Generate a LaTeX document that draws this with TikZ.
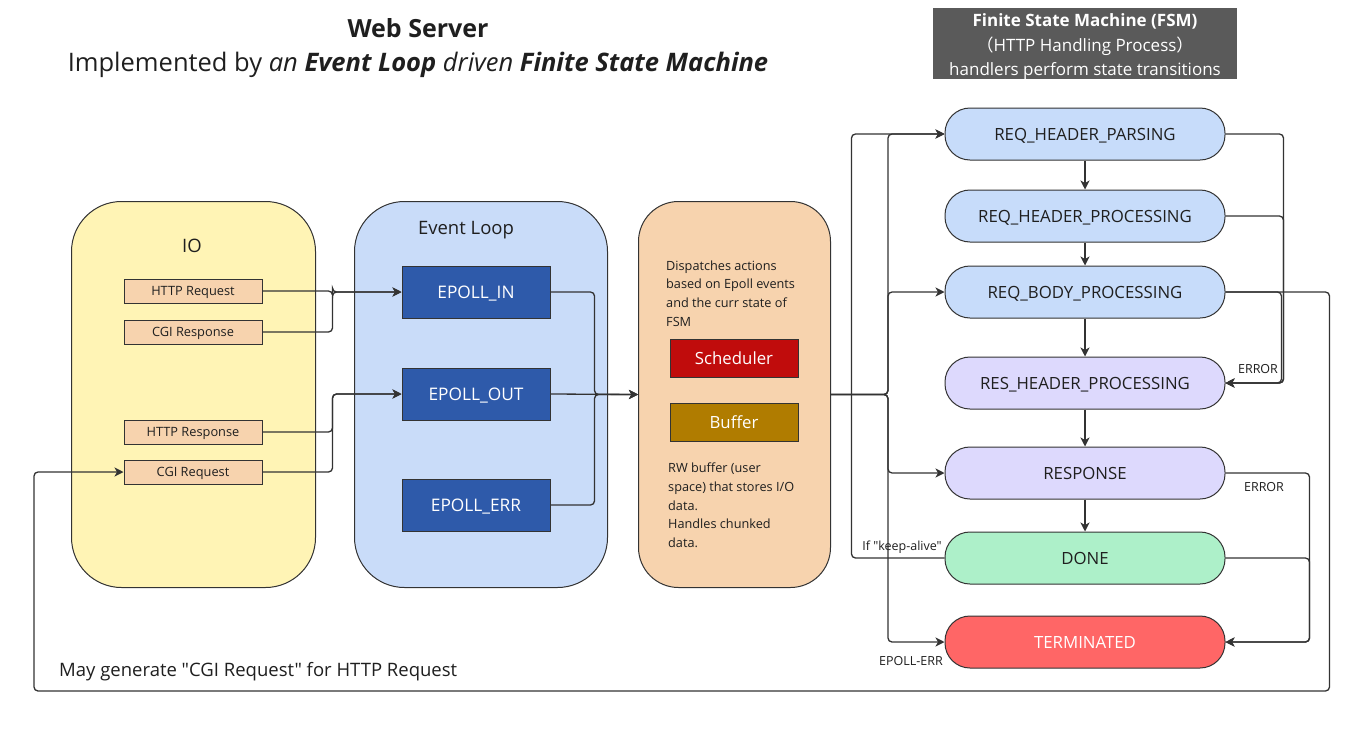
\documentclass[tikz,border=0pt]{standalone}
\usepackage{fontspec}
\setmainfont{Open Sans}[Ligatures=TeXOff]
\newfontfamily\cjk{Noto Sans CJK SC}
\usetikzlibrary{arrows.meta,positioning,calc}
\definecolor{Ink}{HTML}{333333}
\definecolor{TextInk}{HTML}{1F1F1F}
\definecolor{IOFill}{HTML}{FFF4B5}
\definecolor{LoopFill}{HTML}{C9DCF9}
\definecolor{Peach}{HTML}{F7D3AE}
\definecolor{EpollBlue}{HTML}{2E5AAA}
\definecolor{SchedRed}{HTML}{C00C0C}
\definecolor{BufGold}{HTML}{B07C00}
\definecolor{ReqBlue}{HTML}{C7DCFA}
\definecolor{ResLav}{HTML}{DDD9FD}
\definecolor{DoneMint}{HTML}{ADF0C9}
\definecolor{TermRed}{HTML}{FF6666}
\definecolor{HeadGray}{HTML}{5A5A5A}

\begin{document}
\begin{tikzpicture}[x=1pt,y=-1pt,text=TextInk,
    group/.style={draw=Ink,line width=1pt,anchor=north west,inner sep=0pt,minimum height=386pt},
    iobox/.style={draw=Ink,line width=1pt,fill=Peach,minimum width=138pt,minimum height=24pt,inner sep=0pt,text height=9.2pt,text depth=0pt,font=\fontsize{12.8}{14}\selectfont},
    epoll/.style={draw=Ink,line width=1pt,fill=EpollBlue,text=white,minimum width=148pt,minimum height=52pt,inner sep=0pt,text height=12.3pt,text depth=0pt,font=\fontsize{17.3}{19}\selectfont},
    tool/.style={draw=Ink,line width=1pt,text=white,minimum width=128pt,minimum height=38pt,inner sep=0pt,text height=12pt,text depth=0pt,font=\fontsize{16.8}{19}\selectfont},
    state/.style={draw=Ink,line width=1pt,rounded corners=25pt,minimum width=280pt,minimum height=52pt,inner sep=0pt,text height=12pt,text depth=0pt,font=\fontsize{16.8}{19}\selectfont},
    note/.style={font=\fontsize{12.7}{18.6}\selectfont,align=left,inner sep=0pt},
    tag/.style={font=\fontsize{12.5}{14}\selectfont,inner sep=0pt},
    link/.style={draw=Ink,line width=1.3pt,rounded corners=4pt,-{Stealth[length=9pt,width=9pt,inset=2.5pt]}}]
  \useasboundingbox[fill=white] (0,0) rectangle (1361,734);

  % titles
  \node[font=\fontsize{25}{28}\selectfont\bfseries] (title) at (418,28) {Web Server};
  \node[font=\fontsize{25.5}{28}\selectfont] (subtitle) at (418,65) {Implemented by \textit{an \textbf{Event Loop} driven \textbf{Finite State Machine}}};
  \node[fill=HeadGray,text=white,minimum width=304pt,minimum height=71pt,inner sep=0pt,align=center,font=\fontsize{17}{24.5}\selectfont] (fsmhead) at (1085,43.5) {};
  \node[text=white,align=center,font=\fontsize{17}{24.5}\selectfont,inner sep=0pt] (fsmtext) at (1085,47)
    {\textbf{Finite State Machine (FSM)}\\{\cjk （}HTTP Handling Process{\cjk ）}\\handlers perform state transitions};

  % IO column
  \node[group,fill=IOFill,minimum width=244pt,rounded corners=50pt] (io) at (71,201) {};
  \node[font=\fontsize{18.5}{20}\selectfont] (iolabel) at (192,246) {IO};
  \node[iobox] (httpreq) at (193,291) {HTTP Request};
  \node[iobox] (cgires) at (193,332) {CGI Response};
  \node[iobox] (httpres) at (193,432) {HTTP Response};
  \node[iobox] (cgireq) at (193,472) {CGI Request};

  % event loop column
  \node[group,fill=LoopFill,minimum width=253pt,rounded corners=50pt] (loop) at (354,201) {};
  \node[font=\fontsize{18.5}{20}\selectfont] (looplabel) at (466,230) {Event Loop};
  \node[epoll] (epin) at (476,292) {EPOLL\_IN};
  \node[epoll] (epout) at (476,394) {EPOLL\_OUT};
  \node[epoll] (eperr) at (476,505) {EPOLL\_ERR};

  % dispatcher column
  \node[group,fill=Peach,minimum width=192pt,rounded corners=40pt] (disp) at (638,201) {};
  \node[note,anchor=north west] (disptext) at (666,260.5) {Dispatches actions\\based on Epoll events\\and the curr state of\\FSM};
  \node[tool,fill=SchedRed] (sched) at (734,358) {Scheduler};
  \node[tool,fill=BufGold] (buf) at (734,422) {Buffer};
  \node[note,anchor=north west] (buftext) at (668,463) {RW buffer (user\\space) that stores I/O\\data.\\Handles chunked\\data.};

  % FSM states
  \node[state,fill=ReqBlue] (s1) at (1085,134) {REQ\_HEADER\_PARSING};
  \node[state,fill=ReqBlue] (s2) at (1085,216) {REQ\_HEADER\_PROCESSING};
  \node[state,fill=ReqBlue] (s3) at (1085,292) {REQ\_BODY\_PROCESSING};
  \node[state,fill=ResLav] (s4) at (1085,383) {RES\_HEADER\_PROCESSING};
  \node[state,fill=ResLav] (s5) at (1085,473) {RESPONSE};
  \node[state,fill=DoneMint] (s6) at (1085,558) {DONE};
  \node[state,fill=TermRed,text=white] (s7) at (1085,642) {TERMINATED};

  % IO -> epoll
  \draw[link] (httpreq.east) -- ++(70,0) |- (epin.west);
  \draw[link] (cgires.east) -- ++(70,0) |- (epin.west);
  \draw[link] (httpres.east) -- ++(70,0) |- (epout.west);
  \draw[link] (cgireq.east) -- ++(70,0) |- (epout.west);

  % epoll -> dispatcher
  \draw[link] (epin.east) -- ++(44,0) |- (disp.west);
  \draw[link] (epout.east) -- (disp.west);
  \draw[link] (eperr.east) -- ++(44,0) |- (disp.west);

  % dispatcher -> states
  \foreach \s in {s1,s3,s5,s7}
    \draw[link] (disp.east) -- ++(57,0) |- (\s.west);
  \node[tag] (epolltag) at (911,661) {EPOLL-ERR};

  % normal flow
  \draw[link] (s1) -- (s2);
  \draw[link] (s2) -- (s3);
  \draw[link] (s3) -- (s4);
  \draw[link] (s4) -- (s5);
  \draw[link] (s5) -- (s6);

  % keep-alive loop
  \draw[link] (s6.west) -- ++(-93,0) |- (s1.west);
  \node[tag] (keeptag) at (902,547) {If "keep-alive"};

  % errors
  \draw[link] (s1.east) -- ++(58,0) |- (s4.east);
  \draw[link] (s2.east) -- ++(58,0) |- (s4.east);
  \draw[link] (s3.east) -- ++(56,0) |- (s4.east);
  \node[tag] (err1) at (1258,369) {ERROR};
  \draw[link] (s5.east) -- ++(84,0) |- (s7.east);
  \draw[link] (s6.east) -- ++(84,0) |- (s7.east);
  \node[tag] (err2) at (1264,487) {ERROR};

  % CGI loop back
  \coordinate (loopback) at (34,691);
  \draw[link] (s3.east) -- ++(104,0) |- (loopback) |- (cgireq.west);
  \node[font=\fontsize{18.5}{20}\selectfont,anchor=west,inner sep=0pt] (cginote) at (59,672) {May generate "CGI Request" for HTTP Request};
\end{tikzpicture}
\end{document}
